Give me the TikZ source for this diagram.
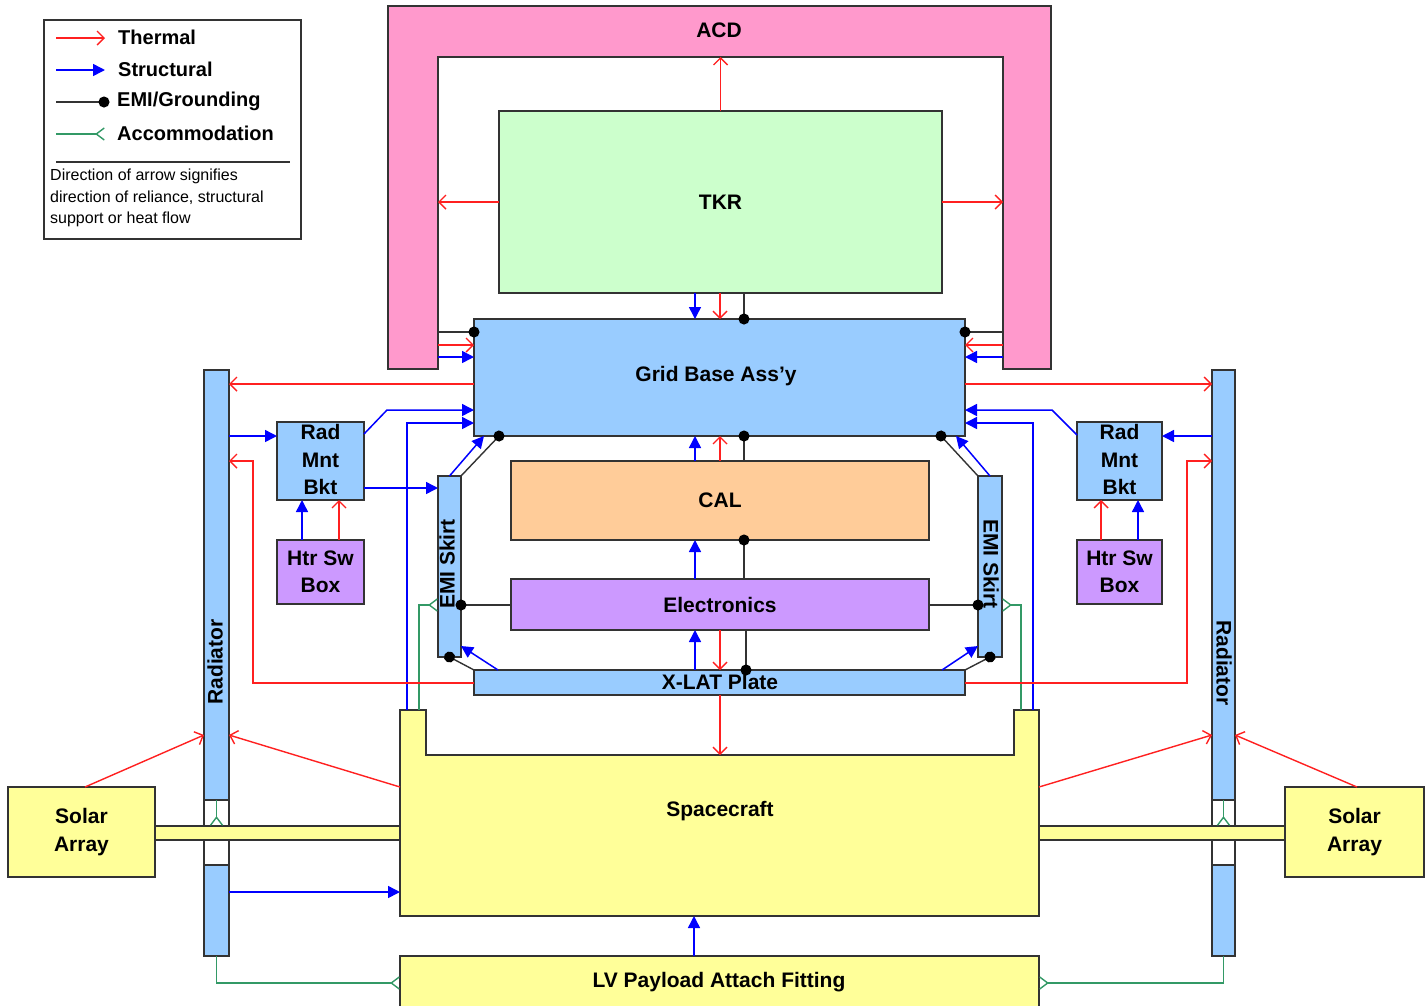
\documentclass[tikz,border=0pt]{standalone}
\usepackage{fontspec}
\setmainfont{Liberation Sans}
\usetikzlibrary{arrows.meta}
\definecolor{pinkc}{HTML}{FF99CC}
\definecolor{tkrc}{HTML}{CCFFCC}
\definecolor{bluec}{HTML}{99CCFF}
\definecolor{calc}{HTML}{FFCC99}
\definecolor{purc}{HTML}{CC99FF}
\definecolor{yelc}{HTML}{FFFF99}
\definecolor{thermc}{HTML}{FF2020}
\definecolor{structc}{HTML}{0000FF}
\definecolor{accc}{HTML}{339966}
\definecolor{edgec}{HTML}{333333}
\newcommand\mainlbl{\fontsize{21}{27.5}\selectfont\bfseries}
\newcommand\legendlbl{\fontsize{20}{24}\selectfont\bfseries}
\newcommand\notelbl{\fontsize{16}{21.5}\selectfont}
\tikzset{
  box/.style={draw=edgec, line width=2pt, inner sep=0pt, outer sep=0pt, font=\mainlbl, align=center},
  ghost/.style={inner sep=0pt, outer sep=0pt},
  lbl/.style={inner sep=0pt, font=\mainlbl, align=center},
  thermal/.style={draw=thermc, line width=1.4pt, -{Straight Barb[length=7pt,width=14pt]}},
  struct/.style={draw=structc, line width=1.5pt, -{Triangle[length=12pt,width=12pt]}},
  emi/.style={draw=edgec, line width=1.4pt, -{Circle[length=11pt,black]}, shorten >=-5.5pt},
  accom/.style={draw=accc, line width=1.4pt, -{Straight Barb[reversed,length=8pt,width=12pt]}},
}
\begin{document}
\begin{tikzpicture}[x=1pt,y=-1pt]
\fill[white] (0,0) rectangle (1425,1005);
\useasboundingbox (0,0) rectangle (1425,1005);

% ---------------- Legend ----------------
\node[draw=edgec, line width=1.5pt, minimum width=257pt, minimum height=219pt, inner sep=0pt] (legend) at (172.5,129.5) {};
\coordinate (lgTa) at (56,38);  \coordinate (lgTb) at (105,38);
\coordinate (lgSa) at (56,70);  \coordinate (lgSb) at (105,70);
\coordinate (lgEa) at (56,102); \coordinate (lgEb) at (104,102);
\coordinate (lgAa) at (56,134); \coordinate (lgAb) at (105,134);
\coordinate (lgLa) at (56,162); \coordinate (lgLb) at (290,162);
\draw[thermal] (lgTa) -- (lgTb);
\draw[struct] (lgSa) -- (lgSb);
\draw[emi] (lgEa) -- (lgEb);
\draw[accom] (lgAa) -- (lgAb);
\draw[edgec, line width=1.4pt] (lgLa) -- (lgLb);
\node[anchor=west, inner sep=0pt, font=\legendlbl] (lgT) at (118,37) {Thermal};
\node[anchor=west, inner sep=0pt, font=\legendlbl] (lgS) at (118,69) {Structural};
\node[anchor=west, inner sep=0pt, font=\legendlbl] (lgE) at (117,101) {EMI/Grounding};
\node[anchor=west, inner sep=0pt, font=\legendlbl] (lgA) at (117,133) {Accommodation};
\node[anchor=north west, inner sep=0pt, font=\notelbl, align=left] (lgN) at (50,169)
  {Direction of arrow signifies\\direction of reliance, structural\\support or heat flow};

% ---------------- ACD ----------------
\node[ghost, minimum width=663pt, minimum height=51pt] (acdTop) at (719.5,31.5) {};
\node[ghost, minimum width=50pt, minimum height=312pt] (acdL) at (413,213) {};
\node[ghost, minimum width=48pt, minimum height=312pt] (acdR) at (1027,213) {};
\draw[draw=edgec, line width=2pt, fill=pinkc]
  (acdL.south west) -- (acdTop.north west) -- (acdTop.north east) -- (acdR.south east)
  -- (acdR.south west) -- (acdR.north west) -- (acdL.north east) -- (acdL.south east) -- cycle;
\node[lbl] at (719,30) {ACD};

% ---------------- Central stack ----------------
\node[box, fill=tkrc, minimum width=443pt, minimum height=182pt] (tkr) at (720.5,202) {TKR};
\node[box, fill=bluec, minimum width=491pt, minimum height=117pt] (grid) at (719.5,377.5) {};
\node[lbl] at (716,376) {Grid Base Ass'y};
\node[box, fill=calc, minimum width=418pt, minimum height=79pt] (cal) at (720,500.5) {CAL};
\node[box, fill=purc, minimum width=418pt, minimum height=51pt] (elec) at (720,604.5) {Electronics};
\node[box, fill=bluec, minimum width=491pt, minimum height=25pt] (xlat) at (719.5,682.5) {};
\node[lbl] at (720,682) {X-LAT Plate};
\node[box, fill=bluec, minimum width=23pt, minimum height=181pt] (emiL) at (449.5,566.5) {};
\node[box, fill=bluec, minimum width=24pt, minimum height=181pt] (emiR) at (990,566.5) {};
\node[lbl, rotate=90] at (447,564) {EMI Skirt};
\node[lbl, rotate=-90] at (991,564) {EMI Skirt};

% ---------------- Side elements ----------------
\node[box, fill=bluec, minimum width=25pt, minimum height=430pt] (radLtop) at (216.5,585) {};
\node[box, fill=white, minimum width=25pt, minimum height=65pt] (radLgap) at (216.5,832.5) {};
\node[box, fill=bluec, minimum width=25pt, minimum height=91pt] (radLbot) at (216.5,910.5) {};
\node[box, fill=bluec, minimum width=23pt, minimum height=430pt] (radRtop) at (1223.5,585) {};
\node[box, fill=white, minimum width=23pt, minimum height=65pt] (radRgap) at (1223.5,832.5) {};
\node[box, fill=bluec, minimum width=23pt, minimum height=91pt] (radRbot) at (1223.5,910.5) {};
\node[lbl, rotate=90] at (215,662) {Radiator};
\node[lbl, rotate=-90] at (1224,663) {Radiator};

\node[box, fill=bluec, minimum width=87pt, minimum height=78pt] (rmbL) at (320.5,461) {};
\node[box, fill=bluec, minimum width=85pt, minimum height=78pt] (rmbR) at (1119.5,461) {};
\node[lbl] at (320.5,459.5) {Rad\\Mnt\\Bkt};
\node[lbl] at (1119.5,459.5) {Rad\\Mnt\\Bkt};
\node[box, fill=purc, minimum width=87pt, minimum height=64pt] (hsbL) at (320.5,572) {Htr Sw\\Box};
\node[box, fill=purc, minimum width=85pt, minimum height=64pt] (hsbR) at (1119.5,572) {Htr Sw\\Box};

\node[box, fill=yelc, minimum width=147pt, minimum height=90pt] (solarL) at (81.5,832) {Solar\\Array};
\node[box, fill=yelc, minimum width=139pt, minimum height=90pt] (solarR) at (1354.5,832) {Solar\\Array};
\node[box, fill=yelc, minimum width=245pt, minimum height=14pt] (barL) at (277.5,833) {};
\node[box, fill=yelc, minimum width=246pt, minimum height=14pt] (barR) at (1162,833) {};

% ---------------- Spacecraft & LV ----------------
\node[ghost, minimum width=639pt, minimum height=161pt] (sc) at (719.5,835.5) {};
\node[ghost, minimum width=26pt, minimum height=45pt] (scLp) at (413,732.5) {};
\node[ghost, minimum width=25pt, minimum height=45pt] (scRp) at (1026.5,732.5) {};
\draw[draw=edgec, line width=2pt, fill=yelc]
  (scLp.north west) -- (scLp.north east) -- (scLp.south east) -- (scRp.south west)
  -- (scRp.north west) -- (scRp.north east) -- (sc.south east) -- (sc.south west) -- cycle;
\node[lbl] at (720,811) {Spacecraft};
\node[box, fill=yelc, minimum width=639pt, minimum height=54pt] (lv) at (719.5,983) {};
\node[lbl] at (719,982) {LV Payload Attach Fitting};

% ---------------- Connectors: ACD / TKR ----------------
\draw[thermal] (tkr.north) -- (tkr.north |- acdTop.south);
\draw[thermal] (tkr.west) -- (tkr.west -| acdL.east);
\draw[thermal] (tkr.east) -- (tkr.east -| acdR.west);

\draw[struct] (tkr.south -| 695,0) -- (grid.north -| 695,0);
\draw[thermal] (tkr.south -| 720,0) -- (grid.north -| 720,0);
\draw[emi] (tkr.south -| 744,0) -- (grid.north -| 744,0);

\draw[struct] (cal.north -| 695,0) -- (grid.south -| 695,0);
\draw[thermal] (cal.north -| 720,0) -- (grid.south -| 720,0);
\draw[emi] (cal.north -| 744,0) -- (grid.south -| 744,0);

\draw[struct] (elec.north -| 695,0) -- (cal.south -| 695,0);
\draw[emi] (elec.north -| 744,0) -- (cal.south -| 744,0);

\draw[struct] (xlat.north -| 695,0) -- (elec.south -| 695,0);
\draw[thermal] (elec.south -| 720,0) -- (xlat.north -| 720,0);
\draw[emi] (elec.south -| 746,0) -- (xlat.north -| 746,0);

\draw[thermal] (xlat.south -| 720,0) -- (sc.north -| 720,0);

% ACD -> Grid
\draw[emi] (acdL.east |- 0,332) -- (grid.west |- 0,332);
\draw[thermal] (acdL.east |- 0,345) -- (grid.west |- 0,345);
\draw[struct] (acdL.east |- 0,357) -- (grid.west |- 0,357);
\draw[emi] (acdR.west |- 0,332) -- (grid.east |- 0,332);
\draw[thermal] (acdR.west |- 0,345) -- (grid.east |- 0,345);
\draw[struct] (acdR.west |- 0,357) -- (grid.east |- 0,357);

% Grid -> Radiators
\draw[thermal] (grid.west |- 0,384) -- (radLtop.east |- 0,384);
\draw[thermal] (grid.east |- 0,384) -- (radRtop.west |- 0,384);

% ---------------- Left side ----------------
\draw[struct] (rmbL.east |- 0,434) -- (387,410) -- (grid.west |- 0,410);
\draw[struct] (scLp.north -| 407,0) -- (407,423) -- (grid.west |- 0,423);
\draw[accom] (scLp.north -| 419,0) -- (419,605) -- (emiL.west |- 0,605);
\draw[struct] (radLtop.east |- 0,436) -- (rmbL.west |- 0,436);
\draw[thermal] (xlat.west |- 0,683) -- (253,683) -- (253,461) -- (radLtop.east |- 0,461);
\draw[struct] (hsbL.north -| 302,0) -- (rmbL.south -| 302,0);
\draw[thermal] (hsbL.north -| 339,0) -- (rmbL.south -| 339,0);
\draw[struct] (rmbL.east |- 0,488) -- (emiL.west |- 0,488);
\draw[struct] (emiL.north) -- (grid.south -| 484,0);
\draw[emi] (emiL.north east) -- (grid.south -| 499,0);
\draw[struct] (xlat.north -| 498,0) -- (emiL.east |- 0,646);
\draw[emi] (xlat.north west) -- (emiL.south);
\draw[emi] (elec.west |- 0,605) -- (emiL.east |- 0,605);

% ---------------- Right side ----------------
\draw[struct] (rmbR.west |- 0,435) -- (1052,410) -- (grid.east |- 0,410);
\draw[struct] (scRp.north -| 1033,0) -- (1033,423) -- (grid.east |- 0,423);
\draw[accom] (scRp.north -| 1021,0) -- (1021,605) -- (emiR.east |- 0,605);
\draw[struct] (radRtop.west |- 0,436) -- (rmbR.east |- 0,436);
\draw[thermal] (xlat.east |- 0,683) -- (1187,683) -- (1187,461) -- (radRtop.west |- 0,461);
\draw[thermal] (hsbR.north -| 1101,0) -- (rmbR.south -| 1101,0);
\draw[struct] (hsbR.north -| 1138,0) -- (rmbR.south -| 1138,0);
\draw[struct] (emiR.north) -- (grid.south -| 956,0);
\draw[emi] (emiR.north west) -- (grid.south -| 941,0);
\draw[struct] (xlat.north -| 942,0) -- (emiR.west |- 0,646);
\draw[emi] (xlat.north east) -- (emiR.south);
\draw[emi] (elec.east |- 0,605) -- (emiR.west |- 0,605);

% ---------------- Bottom ----------------
\draw[thermal] (solarL.north -| 85,0) -- (radLtop.west |- 0,735);
\draw[thermal] (sc.west |- 0,787) -- (radLtop.east |- 0,735);
\draw[struct] (radLbot.east |- 0,892) -- (sc.west |- 0,892);
\draw[accom] (radLtop.south) -- (barL.north -| radLtop.south);
\draw[accom] (radLbot.south) -- (radLbot.south |- 0,983) -- (lv.west |- 0,983);
\draw[thermal] (solarR.north -| 1357,0) -- (radRtop.east |- 0,735);
\draw[thermal] (sc.east |- 0,787) -- (radRtop.west |- 0,735);
\draw[accom] (radRtop.south) -- (barR.north -| radRtop.south);
\draw[accom] (radRbot.south) -- (radRbot.south |- 0,983) -- (lv.east |- 0,983);
\draw[struct] (lv.north -| 694,0) -- (sc.south -| 694,0);
\end{tikzpicture}
\end{document}
